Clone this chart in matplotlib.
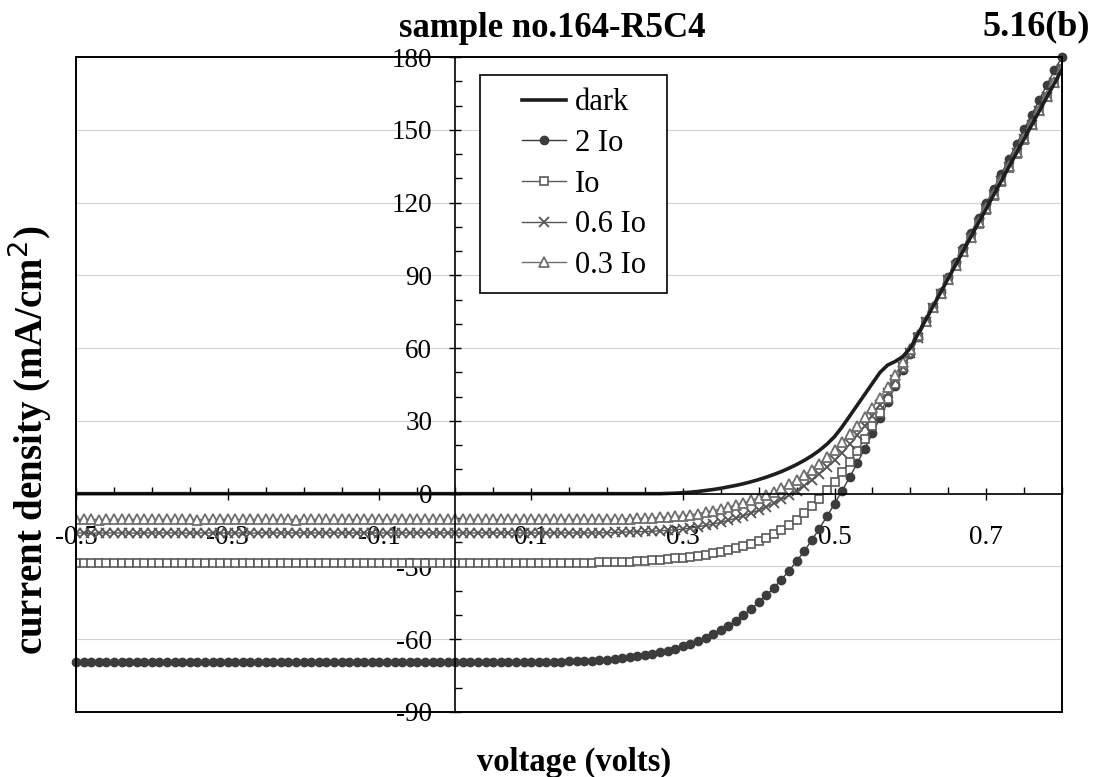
import numpy as np
import matplotlib
matplotlib.use("Agg")
import matplotlib.pyplot as plt
from matplotlib.patches import Rectangle
from matplotlib.ticker import FixedLocator

plt.rcParams['font.family'] = ['Liberation Serif', 'DejaVu Serif']

# voltage sweep (V)
voltage = [
    -0.50, -0.49, -0.48, -0.47, -0.46, -0.45, -0.44, -0.43, -0.42, -0.41,
    -0.40, -0.39, -0.38, -0.37, -0.36, -0.35, -0.34, -0.33, -0.32, -0.31,
    -0.30, -0.29, -0.28, -0.27, -0.26, -0.25, -0.24, -0.23, -0.22, -0.21,
    -0.20, -0.19, -0.18, -0.17, -0.16, -0.15, -0.14, -0.13, -0.12, -0.11,
    -0.10, -0.09, -0.08, -0.07, -0.06, -0.05, -0.04, -0.03, -0.02, -0.01,
    0.00, 0.01, 0.02, 0.03, 0.04, 0.05, 0.06, 0.07, 0.08, 0.09,
    0.10, 0.11, 0.12, 0.13, 0.14, 0.15, 0.16, 0.17, 0.18, 0.19,
    0.20, 0.21, 0.22, 0.23, 0.24, 0.25, 0.26, 0.27, 0.28, 0.29,
    0.30, 0.31, 0.32, 0.33, 0.34, 0.35, 0.36, 0.37, 0.38, 0.39,
    0.40, 0.41, 0.42, 0.43, 0.44, 0.45, 0.46, 0.47, 0.48, 0.49,
    0.50, 0.51, 0.52, 0.53, 0.54, 0.55, 0.56, 0.57, 0.58, 0.59,
    0.60, 0.61, 0.62, 0.63, 0.64, 0.65, 0.66, 0.67, 0.68, 0.69,
    0.70, 0.71, 0.72, 0.73, 0.74, 0.75, 0.76, 0.77, 0.78, 0.79,
    0.80,
]

# current density (mA/cm2)
j_dark = [
    0.0, 0.0, 0.0, 0.0, 0.0, 0.0, 0.0, 0.0, 0.0, 0.0,
    0.0, 0.0, 0.0, 0.0, 0.0, 0.0, 0.0, 0.0, 0.0, 0.0,
    0.0, 0.0, 0.0, 0.0, 0.0, 0.0, 0.0, 0.0, 0.0, 0.0,
    0.0, 0.0, 0.0, 0.0, 0.0, 0.0, 0.0, 0.0, 0.0, 0.0,
    0.0, 0.0, 0.0, 0.0, 0.0, 0.0, 0.0, 0.0, 0.0, 0.0,
    0.0, 0.0, 0.0, 0.0, 0.0, 0.0, 0.0, 0.0, 0.0, 0.0,
    0.0, 0.0, 0.0, 0.0, 0.0, 0.0, 0.0, 0.0, 0.0, 0.0,
    0.0, 0.0, 0.0, 0.0, 0.0, 0.0, 0.0, 0.0, 0.1, 0.2,
    0.4, 0.6, 0.9, 1.3, 1.7, 2.2, 2.8, 3.4, 4.1, 4.9,
    5.8, 6.8, 7.9, 9.1, 10.5, 12.0, 13.7, 15.6, 17.8, 20.4,
    23.5, 27.5, 32.0, 36.5, 41.0, 45.5, 50.0, 53.0, 54.5, 56.5,
    60.0, 65.8, 71.5, 77.3, 83.0, 88.8, 94.5, 100.3, 106.0, 111.8,
    117.5, 123.3, 129.0, 134.8, 140.5, 146.3, 152.0, 157.8, 163.5, 169.3,
    175.0,
]

j_2io = [
    -69.6, -69.5, -69.5, -69.6, -69.5, -69.5, -69.5, -69.6, -69.5, -69.5,
    -69.5, -69.5, -69.6, -69.5, -69.5, -69.5, -69.5, -69.5, -69.6, -69.5,
    -69.5, -69.5, -69.5, -69.5, -69.5, -69.6, -69.5, -69.5, -69.5, -69.5,
    -69.5, -69.5, -69.5, -69.5, -69.5, -69.5, -69.5, -69.4, -69.5, -69.5,
    -69.5, -69.5, -69.5, -69.5, -69.4, -69.5, -69.5, -69.5, -69.5, -69.5,
    -69.5, -69.5, -69.4, -69.5, -69.5, -69.5, -69.5, -69.4, -69.5, -69.5,
    -69.4, -69.4, -69.3, -69.3, -69.2, -69.1, -69.0, -68.9, -68.8, -68.6,
    -68.4, -68.1, -67.8, -67.4, -67.0, -66.5, -66.0, -65.4, -64.7, -64.0,
    -63.0, -62.0, -60.8, -59.5, -58.0, -56.3, -54.4, -52.3, -50.0, -47.5,
    -44.8, -41.9, -38.8, -35.4, -31.8, -27.9, -23.7, -19.2, -14.4, -9.4,
    -4.2, 1.2, 6.8, 12.6, 18.6, 24.8, 31.2, 37.7, 44.3, 51.0,
    57.7, 64.4, 71.0, 77.0, 83.1, 89.2, 95.3, 101.4, 107.5, 113.6,
    119.7, 125.8, 131.9, 138.0, 144.1, 150.2, 156.3, 162.4, 168.5, 174.6,
    180.0,
]

j_io = [
    -28.4, -28.4, -28.5, -28.4, -28.4, -28.4, -28.4, -28.5, -28.4, -28.4,
    -28.4, -28.4, -28.4, -28.4, -28.5, -28.4, -28.4, -28.4, -28.4, -28.4,
    -28.4, -28.5, -28.4, -28.4, -28.4, -28.4, -28.4, -28.4, -28.5, -28.4,
    -28.4, -28.4, -28.4, -28.4, -28.4, -28.4, -28.5, -28.4, -28.4, -28.4,
    -28.4, -28.4, -28.4, -28.4, -28.4, -28.4, -28.4, -28.4, -28.4, -28.4,
    -28.4, -28.4, -28.4, -28.4, -28.4, -28.4, -28.4, -28.4, -28.4, -28.4,
    -28.4, -28.4, -28.4, -28.4, -28.4, -28.4, -28.4, -28.4, -28.4, -28.3,
    -28.3, -28.2, -28.1, -28.0, -27.9, -27.7, -27.5, -27.3, -27.0, -26.7,
    -26.4, -26.0, -25.6, -25.1, -24.6, -24.0, -23.3, -22.5, -21.6, -20.6,
    -19.5, -18.2, -16.7, -15.0, -13.0, -10.7, -8.1, -5.2, -2.0, 1.4,
    5.0, 8.9, 13.1, 17.7, 22.6, 27.8, 33.3, 39.1, 45.2, 51.6,
    58.0, 64.4, 70.6, 76.4, 82.2, 88.0, 93.8, 99.6, 105.4, 111.2,
    117.0, 122.8, 128.6, 134.4, 140.2, 146.0, 151.8, 157.6, 163.4, 169.2,
    175.0,
]

j_06io = [
    -16.2, -16.2, -16.3, -16.2, -16.2, -16.2, -16.2, -16.2, -16.3, -16.2,
    -16.2, -16.2, -16.2, -16.2, -16.2, -16.3, -16.2, -16.2, -16.2, -16.2,
    -16.2, -16.2, -16.2, -16.3, -16.2, -16.2, -16.2, -16.2, -16.2, -16.2,
    -16.2, -16.2, -16.2, -16.2, -16.2, -16.2, -16.2, -16.2, -16.2, -16.2,
    -16.2, -16.2, -16.2, -16.2, -16.2, -16.2, -16.2, -16.2, -16.2, -16.2,
    -16.2, -16.2, -16.2, -16.2, -16.2, -16.2, -16.2, -16.2, -16.2, -16.2,
    -16.2, -16.2, -16.2, -16.2, -16.2, -16.2, -16.2, -16.2, -16.2, -16.2,
    -16.1, -16.0, -15.9, -15.8, -15.7, -15.6, -15.5, -15.3, -15.1, -14.9,
    -14.6, -14.2, -13.7, -13.1, -12.5, -11.8, -11.0, -10.1, -9.1, -8.0,
    -6.8, -5.5, -4.0, -2.4, -0.7, 1.2, 3.3, 5.6, 8.1, 10.8,
    13.7, 16.9, 20.3, 24.0, 28.0, 32.2, 36.7, 41.5, 46.7, 52.2,
    58.0, 64.2, 70.6, 76.6, 82.4, 88.2, 94.0, 99.8, 105.6, 111.4,
    117.2, 123.0, 128.8, 134.6, 140.4, 146.2, 152.0, 157.8, 163.6, 169.4,
    175.2,
]

j_03io = [
    -10.6, -10.6, -10.6, -10.7, -10.6, -10.6, -10.6, -10.6, -10.6, -10.6,
    -10.6, -10.6, -10.6, -10.6, -10.6, -10.6, -10.7, -10.6, -10.6, -10.6,
    -10.6, -10.6, -10.6, -10.6, -10.6, -10.6, -10.6, -10.6, -10.6, -10.7,
    -10.6, -10.6, -10.6, -10.6, -10.6, -10.6, -10.6, -10.6, -10.6, -10.6,
    -10.6, -10.6, -10.6, -10.6, -10.6, -10.6, -10.6, -10.6, -10.6, -10.6,
    -10.6, -10.6, -10.6, -10.6, -10.6, -10.6, -10.6, -10.6, -10.6, -10.6,
    -10.6, -10.6, -10.6, -10.6, -10.6, -10.6, -10.6, -10.6, -10.6, -10.6,
    -10.5, -10.5, -10.4, -10.3, -10.2, -10.1, -10.0, -9.8, -9.6, -9.4,
    -9.1, -8.7, -8.2, -7.6, -7.0, -6.3, -5.5, -4.7, -3.8, -2.8,
    -1.7, -0.5, 0.8, 2.2, 3.8, 5.6, 7.6, 9.9, 12.4, 15.1,
    18.0, 21.1, 24.4, 27.9, 31.6, 35.5, 39.6, 44.0, 49.0, 54.3,
    59.8, 65.5, 71.2, 77.0, 82.8, 88.6, 94.4, 100.2, 106.0, 111.8,
    117.6, 123.4, 129.2, 135.0, 140.8, 146.6, 152.4, 158.2, 164.0, 169.8,
    175.5,
]

x_major = [-0.5, -0.3, -0.1, 0.1, 0.3, 0.5, 0.7]
x_labels = ['-0.5', '-0.3', '-0.1', '0.1', '0.3', '0.5', '0.7']
y_major = [-90, -60, -30, 0, 30, 60, 90, 120, 150, 180]
y_labels = ['-90', '-60', '-30', '0', '30', '60', '90', '120', '150', '180']

fig = plt.figure(figsize=(10.94, 7.77), dpi=100)
ax = fig.add_axes([0.0695, 0.0837, 0.9013, 0.8429])

ax.plot(voltage, j_dark, color='#1e1e1e', lw=2.6, label='dark', zorder=4)
ax.plot(voltage, j_2io, color='#3c3c3c', lw=1.0, marker='o', ms=6,
        mfc='#3c3c3c', mec='#3c3c3c', label='2 Io', clip_on=False, zorder=3)
ax.plot(voltage, j_io, color='#5a5a5a', lw=1.0, marker='s', ms=5.5,
        mfc='white', mec='#5a5a5a', mew=1.2, label='Io', zorder=3)
ax.plot(voltage, j_06io, color='#555555', lw=1.0, marker='x', ms=6.5,
        mec='#555555', mew=1.3, label='0.6 Io', zorder=3)
ax.plot(voltage, j_03io, color='#6e6e6e', lw=1.0, marker='^', ms=6.5,
        mfc='white', mec='#6e6e6e', mew=1.3, label='0.3 Io', zorder=3)

ax.set_xlim(-0.5, 0.8)
ax.set_ylim(-90, 180)

# axes cross at zero, like the spreadsheet original
ax.spines['left'].set_position(('data', 0))
ax.spines['bottom'].set_position(('data', 0))
ax.spines['top'].set_visible(False)
ax.spines['right'].set_visible(False)
for s in ['left', 'bottom']:
    ax.spines[s].set_linewidth(1.2)
    ax.spines[s].set_zorder(5)
ax.add_patch(Rectangle((0, 0), 1, 1, transform=ax.transAxes, fill=False,
                       ec='black', lw=1.4, zorder=6, clip_on=False))

ax.xaxis.set_major_locator(FixedLocator(x_major))
ax.set_xticklabels(x_labels)
ax.xaxis.set_minor_locator(FixedLocator(np.arange(-0.5, 0.801, 0.05)))
ax.yaxis.set_major_locator(FixedLocator(y_major))
ax.set_yticklabels(y_labels)
ax.yaxis.set_minor_locator(FixedLocator(np.arange(-90, 181, 10)))

ax.tick_params(axis='x', which='major', direction='inout', length=9, width=1,
               labelsize=19.5, pad=18)
ax.tick_params(axis='x', which='minor', direction='in', length=5, width=1)
ax.tick_params(axis='y', which='major', direction='inout', length=9, width=1,
               labelsize=19.5, pad=12)
ax.tick_params(axis='y', which='minor', direction='in', length=5, width=1)

ax.yaxis.grid(True, which='major', color='#d2d2d2', lw=0.8)
ax.set_axisbelow(True)

leg = ax.legend(loc='upper left', bbox_to_anchor=(0.452, 0.952), frameon=False,
                fontsize=22, borderpad=0, handlelength=1.45, handletextpad=0.3,
                labelspacing=0.38, borderaxespad=0)
leg.set_zorder(7)
ax.add_patch(Rectangle((0.4097, 0.6397), 0.1897, 0.3328, transform=ax.transAxes,
                       fill=True, fc='white', ec='black', lw=1.2, zorder=6))

fig.text(0.505, 0.963, 'sample no.164-R5C4', ha='center', va='center',
         fontsize=25, fontweight='bold')
fig.text(0.996, 0.965, '5.16(b)', ha='right', va='center',
         fontsize=26, fontweight='bold')
fig.text(0.525, 0.019, 'voltage (volts)', ha='center', va='center',
         fontsize=23.5, fontweight='bold')
fig.text(0.027, 0.433, 'current density (mA/cm$^2$)', ha='center', va='center',
         rotation=90, fontsize=28, fontweight='bold')

fig.savefig('out.png', dpi=100, facecolor='white')
